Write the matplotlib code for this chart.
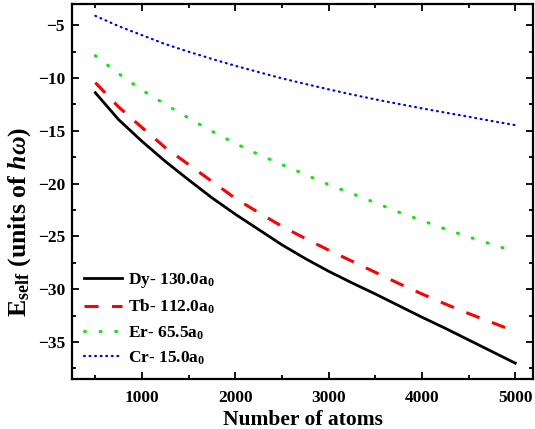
import matplotlib
matplotlib.use("Agg")
import matplotlib.pyplot as plt
from matplotlib.ticker import MultipleLocator

plt.rcParams['font.family'] = ['Liberation Serif', 'DejaVu Serif']
plt.rcParams['font.weight'] = 'bold'
plt.rcParams['mathtext.fontset'] = 'custom'
plt.rcParams['mathtext.rm'] = 'Liberation Serif:bold'
plt.rcParams['mathtext.it'] = 'Liberation Serif:italic:bold'
plt.rcParams['mathtext.bf'] = 'Liberation Serif:bold'

atoms = [500, 750, 1000, 1250, 1500, 1750, 2000, 2250, 2500, 2750,
         3000, 3250, 3500, 3750, 4000, 4250, 4500, 4750, 5000]
dy = [-11.4, -13.95, -16.0, -17.9, -19.65, -21.35, -22.9, -24.35, -25.8, -27.1,
      -28.3, -29.4, -30.45, -31.55, -32.65, -33.7, -34.8, -35.9, -37.0]
tb = [-10.45, -12.75, -14.7, -16.6, -18.2, -19.8, -21.4, -22.75, -24.05, -25.2,
      -26.3, -27.35, -28.4, -29.45, -30.45, -31.4, -32.3, -33.15, -34.0]
er = [-7.9, -9.6, -11.15, -12.5, -13.8, -15.05, -16.2, -17.25, -18.2, -19.15,
      -20.1, -20.95, -21.8, -22.7, -23.5, -24.3, -25.05, -25.75, -26.45]
cr = [-4.12, -5.1, -5.95, -6.8, -7.52, -8.2, -8.85, -9.45, -10.04, -10.57,
      -11.08, -11.57, -12.03, -12.46, -12.88, -13.28, -13.67, -14.08, -14.47]
labels = ["Dy- 130.0a$_0$", "Tb- 112.0a$_0$", "Er- 65.5a$_0$", "Cr- 15.0a$_0$"]

fig = plt.figure(figsize=(5.35, 4.29), dpi=100)
ax = fig.add_axes([72/535, 1-379/429, (533-72)/535, (379-4)/429])

ax.plot(atoms, dy, color='black', lw=2.0, ls='-', label=labels[0])
ax.plot(atoms, tb, color='red', lw=2.2, ls=(0, (4.6, 4.4)), label=labels[1])
ax.plot(atoms, er, color='#00ee00', lw=2.2, ls=(0, (0.3, 4.8)), dash_capstyle='round', label=labels[2])
ax.plot(atoms, cr, color='blue', lw=1.6, ls=(0, (0.4, 2.1)), dash_capstyle='round', label=labels[3])

ax.set_xlim(250, 5190)
ax.set_ylim(-38.5, -3.0)
ax.xaxis.set_major_locator(MultipleLocator(1000))
ax.xaxis.set_minor_locator(MultipleLocator(500))
ax.yaxis.set_major_locator(MultipleLocator(5))
ax.yaxis.set_minor_locator(MultipleLocator(2.5))
ax.tick_params(which='both', direction='in', top=True, right=True, width=1.3, labelsize=12.5)
ax.tick_params(which='major', length=5)
ax.tick_params(axis='x', which='major', pad=8)
ax.tick_params(axis='y', which='major', pad=5)
ax.tick_params(which='minor', length=3)
for s in ax.spines.values():
    s.set_linewidth(1.6)
for t in ax.get_xticklabels() + ax.get_yticklabels():
    t.set_fontweight('bold')

ax.set_xlabel("Number of atoms", fontsize=15.5, fontweight='bold', labelpad=3)
ax.set_ylabel(r"E$_{\mathregular{self}}$ (units of $h\omega$)", fontsize=18.5, fontweight='bold')
ax.yaxis.set_label_coords(-0.085, 0.419)

leg = ax.legend(loc='lower left', frameon=False, fontsize=12.5, handlelength=2.2,
                borderaxespad=0.3, labelspacing=0.45, handletextpad=0.3)
for t in leg.get_texts():
    t.set_fontweight('bold')

fig.savefig("out.png", dpi=100)
